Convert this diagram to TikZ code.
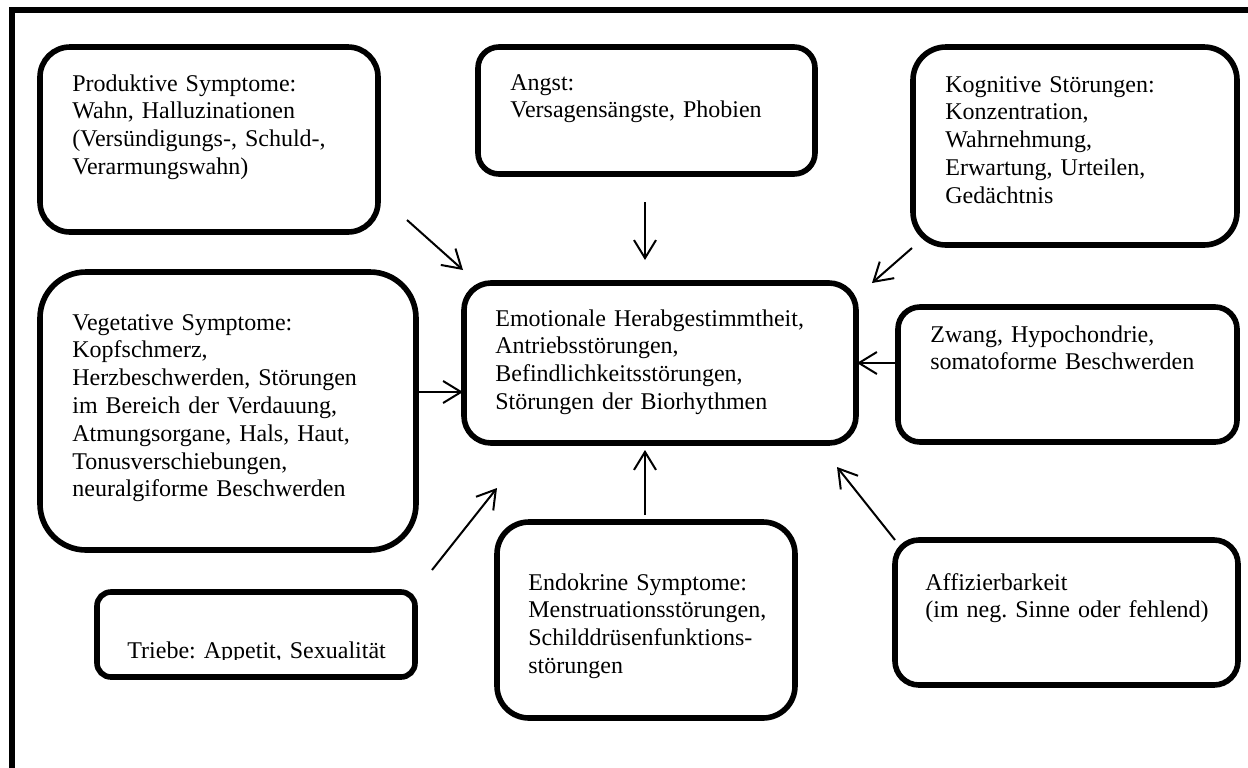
\documentclass[tikz,border=0pt]{standalone}
\usepackage{fontspec}
\setmainfont{Liberation Serif}
\usetikzlibrary{arrows.meta}
\frenchspacing

\begin{document}
\begin{tikzpicture}[x=1pt,y=-1pt,
  sym/.style={draw,line width=2.8pt,rectangle},
  txt/.style={inner sep=0pt,anchor=base west,align=left,text width=150pt,
    font=\fontsize{12pt}{13.9pt}\selectfont},
  pfeil/.style={line width=1pt,-{Straight Barb[length=9pt,width=11pt]}}]
\useasboundingbox (0,0) rectangle (624,383.5);
% outer frame (only top and left edge visible)
\draw[line width=2.6pt] (6,400) -- (6,5) -- (640,5);
% boxes
\node[sym,minimum width=169pt,minimum height=92.5pt,rounded corners=15pt] (prod) at (104.5,69.75) {};
\node[sym,minimum width=168.5pt,minimum height=63.5pt,rounded corners=10.5pt] (angst) at (323.25,55.25) {};
\node[sym,minimum width=162pt,minimum height=99pt,rounded corners=16.5pt] (kog) at (537.5,73) {};
\node[sym,minimum width=188pt,minimum height=139pt,rounded corners=23pt] (veg) at (114,205.5) {};
\node[sym,minimum width=196pt,minimum height=80pt,rounded corners=13.5pt] (emo) at (330,181.5) {};
\node[sym,minimum width=169.5pt,minimum height=67.5pt,rounded corners=11pt] (zwang) at (533.75,187.25) {};
\node[sym,minimum width=159pt,minimum height=42.5pt,rounded corners=7pt] (trieb) at (128,317.25) {};
\node[sym,minimum width=149pt,minimum height=98pt,rounded corners=16pt] (endo) at (323,310) {};
\node[sym,minimum width=171.5pt,minimum height=72.5pt,rounded corners=12pt] (aff) at (533.25,306.25) {};
% texts
\node[txt] (prod-t) at (36,45.5) {Produktive Symptome:\\Wahn, Halluzinationen\\(Versündigungs-, Schuld-,\\Verarmungswahn)};
\node[txt] (angst-t) at (255,45) {Angst:\\Versagensängste, Phobien};
\node[txt] (kog-t) at (472.5,46) {Kognitive Störungen:\\Konzentration,\\Wahrnehmung,\\Erwartung, Urteilen,\\Gedächtnis};
\node[txt,text width=170pt] (veg-t) at (36,165) {Vegetative Symptome:\\Kopfschmerz,\\Herzbeschwerden, Störungen\\im Bereich der Verdauung,\\Atmungsorgane, Hals, Haut,\\Tonusverschiebungen,\\neuralgiforme Beschwerden};
\node[txt,text width=175pt] (emo-t) at (247.5,163) {Emotionale Herabgestimmtheit,\\Antriebsstörungen,\\Befindlichkeitsstörungen,\\Störungen der Biorhythmen};
\node[txt] (zwang-t) at (465,171) {Zwang, Hypochondrie,\\somatoforme Beschwerden};
\begin{scope}
  \clip (48.5,296) rectangle (207.5,329.6);
  \node[txt] (trieb-t) at (63.5,329) {Triebe: Appetit, Sexualität};
\end{scope}
\node[txt] (endo-t) at (264,295) {Endokrine Symptome:\\Menstruationsstörungen,\\Schilddrüsenfunktions-\\störungen};
\node[txt] (aff-t) at (462.5,295) {Affizierbarkeit\\(im neg. Sinne oder fehlend)};
% arrow ends
\coordinate (prod-a) at (203.5,110);   \coordinate (prod-b) at (231.5,135);
\coordinate (angst-a) at (322.5,101);  \coordinate (angst-b) at (322.5,130);
\coordinate (kog-a) at (456,124);      \coordinate (kog-b) at (436,141.5);
\coordinate (veg-a) at (209,196);      \coordinate (veg-b) at (231.5,196);
\coordinate (zwang-a) at (447.5,181.5);\coordinate (zwang-b) at (428.5,181.5);
\coordinate (trieb-a) at (216,285);    \coordinate (trieb-b) at (248.5,244);
\coordinate (endo-a) at (322.5,257.5); \coordinate (endo-b) at (322.5,225);
\coordinate (aff-a) at (447.5,270);    \coordinate (aff-b) at (418.5,233.5);
\foreach \s in {prod,angst,kog,veg,zwang,trieb,endo,aff}
  \draw[pfeil] (\s-a) -- (\s-b);
\end{tikzpicture}
\end{document}
